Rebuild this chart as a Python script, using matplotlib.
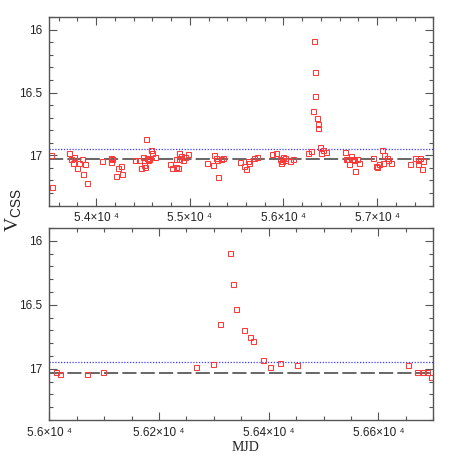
import numpy as np
import matplotlib.pyplot as plt
from matplotlib.ticker import MultipleLocator, FuncFormatter

plt.rcParams['font.family'] = ['Liberation Sans', 'DejaVu Sans']
plt.rcParams['mathtext.fontset'] = 'custom'
plt.rcParams['mathtext.rm'] = 'Liberation Serif'
plt.rcParams['mathtext.sf'] = 'Liberation Sans'

# light curve, MJD and CSS V magnitude
mjd = [
    53520, 53533, 53707, 53733, 53758, 53768, 53793, 53819, 53851, 53864, 53883, 53900,
    54060, 54156, 54160, 54174, 54210, 54231, 54263, 54273,
    54416, 54459, 54480, 54498, 54508, 54526, 54530, 54544, 54558, 54569, 54583, 54598, 54633,
    54790, 54807, 54854, 54857, 54871, 54880, 54889, 54907, 54925, 54950, 54978,
    55181, 55245, 55263, 55281, 55292, 55298, 55334, 55359,
    55540, 55576, 55597, 55619, 55633, 55683, 55722,
    55879, 55922, 55960, 55975, 55982, 55993,
    56012, 56020, 56068, 56098,
    56267, 56298, 56311, 56329, 56335, 56341, 56354, 56366, 56372, 56389, 56402, 56421, 56451,
    56653, 56671, 56682, 56688, 56695,
    56722, 56739, 56750, 56768, 56786, 56811,
    56961, 56989, 57000, 57024, 57049, 57060, 57078, 57103, 57113, 57149,
    57356, 57409, 57434, 57438, 57459, 57481, 57495,
]
vmag = [
    16.995, 17.25, 16.98, 17.03, 17.065, 17.01, 17.10, 17.06, 17.03, 17.15, 17.07, 17.22,
    17.045, 17.05, 17.02, 17.03, 17.165, 17.10, 17.085, 17.145,
    17.04, 17.04, 17.10, 17.01, 17.08, 17.09, 16.87, 17.02, 17.04, 17.03, 16.955, 16.985, 17.01,
    17.07, 17.10, 17.09, 17.03, 17.10, 16.98, 17.03, 17.005, 17.04, 17.01, 16.99,
    17.065, 17.075, 17.00, 17.02, 17.035, 17.17, 17.03, 17.025,
    17.055, 17.085, 17.11, 17.045, 17.065, 17.02, 17.015,
    16.99, 16.985, 17.03, 17.06, 17.045, 17.01,
    17.023, 17.041, 17.044, 17.026,
    16.982, 16.966, 16.646, 16.093, 16.34, 16.53, 16.70, 16.75, 16.785, 16.93, 16.984, 16.956, 16.972,
    16.972, 17.028, 17.026, 17.026, 17.067,
    17.005, 17.03, 17.04, 17.125, 17.03, 17.065,
    17.02, 17.085, 17.09, 17.07, 16.955, 17.065, 17.00, 17.02, 17.04, 17.06,
    17.07, 17.02, 17.04, 17.07, 17.02, 17.11, 17.045,
]

vMean = 17.03
vLimit = 16.95

xlimTop = (53500, 57600)
xlimBottom = (56000, 56700)


def tenPow(v, pos):
    return "{:g}×10 ⁴".format(v / 1e4)


fig = plt.figure(figsize=(4.58, 4.58), dpi=100)
axTop = fig.add_axes([0.1077, 0.5513, 0.8384, 0.4110])
axBottom = fig.add_axes([0.1077, 0.0830, 0.8384, 0.4190])

for ax, xlim, major, minor in [
    (axTop, xlimTop, 1000, 200),
    (axBottom, xlimBottom, 200, 50),
]:
    ax.plot(xlim, [vMean, vMean], color="#4d4d4d", linewidth=1.2,
            linestyle=(0, (8.5, 2.5)), zorder=1)
    ax.plot(xlim, [vLimit, vLimit], color="#3a3aff", linewidth=0.9,
            linestyle=(0, (1, 1.3)), zorder=1)
    ax.plot(mjd, vmag, linestyle="none", marker="s", markersize=3.6,
            markerfacecolor="none", markeredgecolor="#ff3838",
            markeredgewidth=0.75, zorder=2)

    ax.set_xlim(*xlim)
    ax.set_ylim(17.4, 15.9)

    ax.xaxis.set_major_locator(MultipleLocator(major))
    ax.xaxis.set_minor_locator(MultipleLocator(minor))
    ax.xaxis.set_major_formatter(FuncFormatter(tenPow))
    ax.yaxis.set_major_locator(MultipleLocator(0.5))
    ax.yaxis.set_minor_locator(MultipleLocator(0.1))
    ax.yaxis.set_major_formatter(FuncFormatter(lambda v, pos: "{:g}".format(v)))

    ax.tick_params(which="both", direction="in", top=True, right=True,
                   color="#555555", width=0.8, labelsize=8.5, labelcolor="#222222", pad=5)
    ax.tick_params(which="major", length=5.8)
    ax.tick_params(which="minor", length=3.2)
    for spine in ax.spines.values():
        spine.set_color("#555555")
        spine.set_linewidth(1.0)

fig.text(0.535, 0.022, "MJD", family="Liberation Serif", fontsize=10,
         ha="center", va="center", color="#222222")
fig.text(0.03, 0.54, r"$\mathrm{V}_{\mathsf{CSS}}$", fontsize=14,
         rotation=90, ha="center", va="center", color="#222222")

fig.savefig("out.png", dpi=100)
